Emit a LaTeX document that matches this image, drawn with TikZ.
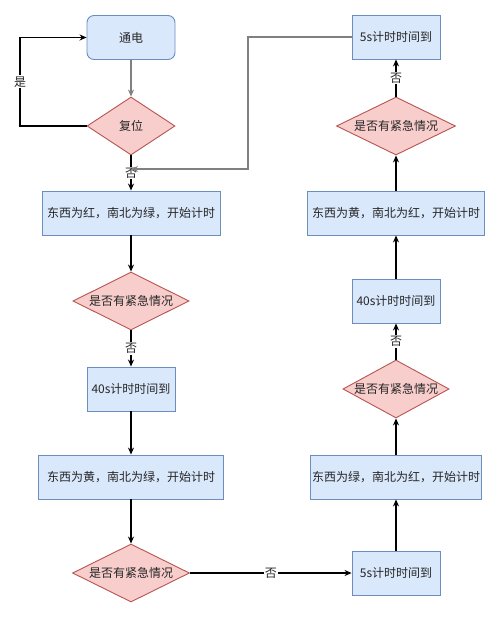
\documentclass[tikz,border=0pt]{standalone}
\usepackage{fontspec}
\setmainfont{Noto Sans CJK SC}
\usetikzlibrary{arrows.meta,shapes.geometric}
\definecolor{bfill}{HTML}{DAE8FC}
\definecolor{bline}{HTML}{6C8EBF}
\definecolor{rfill}{HTML}{F8CECC}
\definecolor{rline}{HTML}{B85450}
\definecolor{gline}{HTML}{808080}
\begin{document}
\begin{tikzpicture}[x=1pt,y=-1pt,
  every node/.style={font=\fontsize{12}{14}\selectfont, text=black!85},
  bbox/.style={draw=bline, fill=bfill, line width=0.9pt, minimum height=44pt, inner sep=0pt},
  dbox/.style={draw=rline, fill=rfill, line width=0.9pt, diamond, aspect=2, inner sep=0pt},
  arr/.style={-{Stealth[length=7pt,width=6pt]}, line width=1.2pt, black},
  garr/.style={-{Stealth[length=7pt,width=6pt]}, line width=1.1pt, gline},
  lbl/.style={fill=white, inner sep=1pt}
]
\useasboundingbox (0,0) rectangle (500,617);
% left column
\node[bbox, rounded corners=7pt, minimum width=88pt] (td) at (131,37.5) {通电};
\node[dbox, minimum width=88pt, minimum height=58pt] (fw) at (131,126) {复位};
\node[bbox, minimum width=178pt] (b1) at (131,213) {东西为红，南北为绿，开始计时};
\node[dbox, minimum width=116pt, minimum height=58pt] (d2) at (131,301) {是否有紧急情况};
\node[bbox, minimum width=88pt] (t40l) at (131,389) {40s计时时间到};
\node[bbox, minimum width=185pt] (b2) at (131,477) {东西为黄，南北为绿，开始计时};
\node[dbox, minimum width=117pt, minimum height=58pt] (d3) at (131,573) {是否有紧急情况};
% right column
\node[bbox, minimum width=88pt] (t5b) at (396,573) {5s计时时间到};
\node[bbox, minimum width=171pt] (b3) at (396,477) {东西为绿，南北为红，开始计时};
\node[dbox, minimum width=105pt, minimum height=58pt] (d4) at (396,389) {是否有紧急情况};
\node[bbox, minimum width=88pt] (t40r) at (396,301) {40s计时时间到};
\node[bbox, minimum width=177pt] (b4) at (396,213) {东西为黄，南北为红，开始计时};
\node[dbox, minimum width=119pt, minimum height=58pt] (d5) at (396,126) {是否有紧急情况};
\node[bbox, minimum width=88pt] (t5t) at (396,37) {5s计时时间到};
% coordinates
\coordinate (lp) at (20,126);
\coordinate (c1) at (248,169);
\coordinate (c2) at (131,169);
% connectors
\draw[garr] (td.south) -- (fw.north);
\draw[arr] (fw.west) -- (lp) |- node[pos=0.25, lbl]{是} (td.west);
\draw[arr] (fw.south) -- node[lbl]{否} (b1.north);
\draw[garr] (t5t.west) -| (c1) -- (c2);
\draw[arr] (b1.south) -- (d2.north);
\draw[arr] (d2.south) -- node[lbl]{否} (t40l.north);
\draw[arr] (t40l.south) -- (b2.north);
\draw[arr] (b2.south) -- (d3.north);
\draw[arr] (d3.east) -- node[lbl]{否} (t5b.west);
\draw[arr] (t5b.north) -- (b3.south);
\draw[arr] (b3.north) -- (d4.south);
\draw[arr] (d4.north) -- node[lbl]{否} (t40r.south);
\draw[arr] (t40r.north) -- (b4.south);
\draw[arr] (b4.north) -- (d5.south);
\draw[arr] (d5.north) -- node[lbl]{否} (t5t.south);
\end{tikzpicture}
\end{document}
